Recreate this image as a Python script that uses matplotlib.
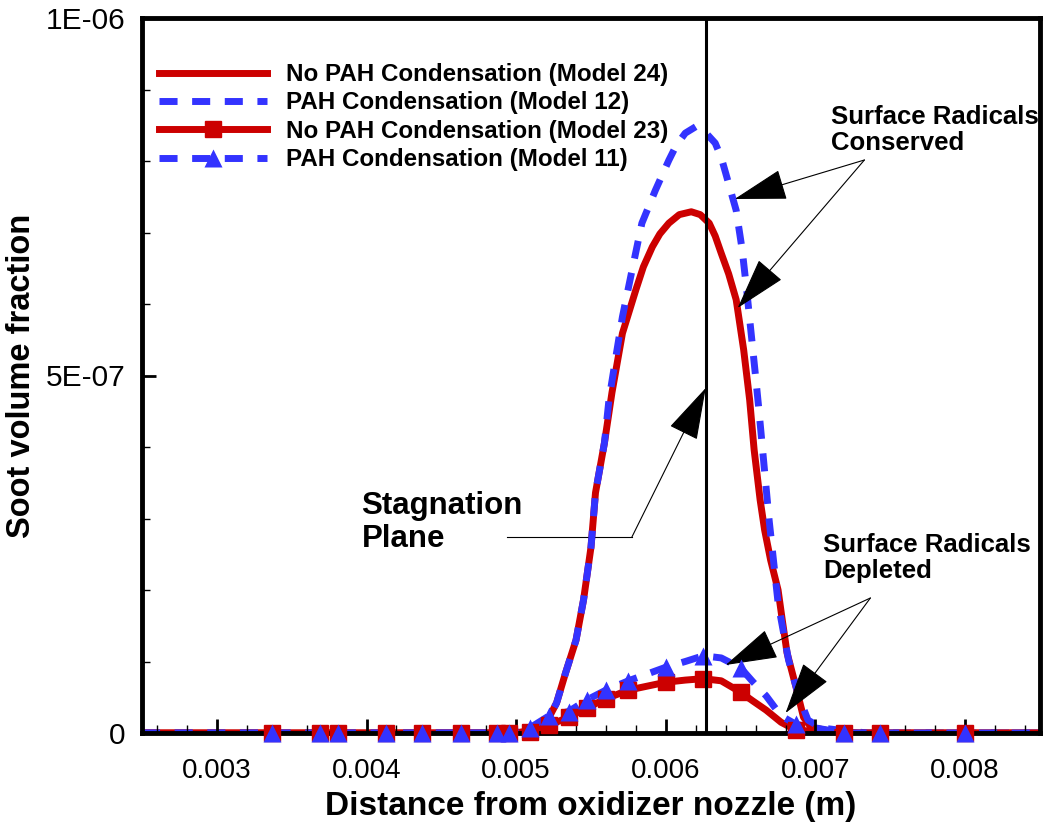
import matplotlib
matplotlib.use('Agg')
import matplotlib.pyplot as plt
from matplotlib.lines import Line2D
from matplotlib.ticker import MultipleLocator, FixedLocator, FixedFormatter
import numpy as np

plt.rcParams['font.family'] = ['Liberation Sans', 'DejaVu Sans']

RED = '#CC0000'
BLUE = '#3333FF'

# Model 24: no PAH condensation (surface radicals conserved)
x_m24 = [0.0025, 0.0050, 0.00513, 0.0052, 0.00527, 0.00533, 0.0054, 0.00545, 0.0055,
         0.00553, 0.00559, 0.00564, 0.00571, 0.0058, 0.00585, 0.00591, 0.00596, 0.00602,
         0.00609, 0.00617, 0.00623, 0.00629, 0.00633, 0.00637, 0.00642, 0.00647, 0.00652,
         0.00656, 0.00659, 0.00663, 0.00666, 0.0067, 0.00675, 0.00678, 0.00681, 0.00687,
         0.00692, 0.00697, 0.00709, 0.00729, 0.0085]
y_m24 = [0, 0, 0.04, 0.14, 0.42, 0.84, 1.30, 1.86, 2.60,
         3.36, 4.06, 4.76, 5.59, 6.20, 6.52, 6.80, 6.98, 7.13,
         7.25, 7.29, 7.25, 7.13, 6.95, 6.71, 6.42, 6.06, 5.36,
         4.66, 3.96, 3.26, 2.84, 2.42, 2.00, 1.55, 1.12, 0.64,
         0.22, 0.08, 0.03, 0, 0]

# Model 12: PAH condensation (surface radicals conserved)
x_m12 = [0.0025, 0.0050, 0.00513, 0.0052, 0.00527, 0.00533, 0.0054, 0.00545, 0.0055,
         0.00553, 0.00559, 0.00562, 0.00567, 0.00571, 0.00577, 0.00584, 0.00593, 0.00602,
         0.00607, 0.00613, 0.0062, 0.00626, 0.00633, 0.00637, 0.0064, 0.00647, 0.00651,
         0.00654, 0.00657, 0.0066, 0.00662, 0.00669, 0.00675, 0.00682, 0.00689, 0.00695,
         0.00704, 0.0072, 0.00735, 0.0085]
y_m12 = [0, 0, 0.04, 0.14, 0.42, 0.84, 1.30, 1.86, 2.60,
         3.36, 4.06, 4.66, 5.31, 5.82, 6.43, 7.13, 7.59, 8.01,
         8.22, 8.39, 8.48, 8.41, 8.25, 8.05, 7.83, 7.31, 6.76,
         6.20, 5.59, 4.98, 4.56, 2.98, 1.82, 1.02, 0.50, 0.18,
         0.07, 0.03, 0, 0]

# Models 23 / 11: surface radicals depleted (shared grid, markers on grid nodes)
x_dep = [0.0025, 0.00337, 0.00369, 0.00381, 0.00413, 0.00437, 0.00463, 0.00487, 0.00495,
         0.00509, 0.00522, 0.00535, 0.00547, 0.0056, 0.00575, 0.006, 0.00613, 0.00625,
         0.00637, 0.0065, 0.00658, 0.00667, 0.00677, 0.00687, 0.00719, 0.00743, 0.008, 0.0085]
y_m23 = [0, 0, 0, 0, 0, 0, 0, 0, 0,
         0.02, 0.11, 0.22, 0.35, 0.48, 0.60, 0.71, 0.74, 0.76,
         0.73, 0.57, 0.45, 0.32, 0.15, 0.04, 0, 0, 0, 0]
y_m11 = [0, 0, 0, 0, 0, 0, 0, 0, 0,
         0.07, 0.24, 0.30, 0.46, 0.60, 0.73, 0.92, 1.00, 1.08,
         1.05, 0.91, 0.72, 0.52, 0.24, 0.12, 0, 0, 0, 0]
marker_idx = [1, 2, 3, 4, 5, 6, 7, 8, 9, 10, 11, 12, 13, 14, 15, 17, 19, 23, 24, 25, 26]

labels = ['No PAH Condensation (Model 24)', 'PAH Condensation (Model 12)',
          'No PAH Condensation (Model 23)', 'PAH Condensation (Model 11)']

x_stag = 0.00627

scale = 1e-7
y_m24 = np.array(y_m24) * scale
y_m12 = np.array(y_m12) * scale
y_m23 = np.array(y_m23) * scale
y_m11 = np.array(y_m11) * scale
x_dep = np.array(x_dep)

fig = plt.figure(figsize=(10.43, 8.27), dpi=100)
ax = fig.add_axes([142 / 1043, 1 - 733 / 827, 898 / 1043, 715 / 827])

lw = 5
dash = (2.6, 2.1)
ax.plot(x_m24, y_m24, color=RED, lw=lw, solid_joinstyle='round', zorder=2)
ax.plot(x_m12, y_m12, color=BLUE, lw=lw, dashes=dash, zorder=2.1)
ax.plot(x_dep, y_m23, color=RED, lw=lw, solid_joinstyle='round', zorder=2.2)
ax.plot(x_dep, y_m11, color=BLUE, lw=lw, dashes=dash, zorder=2.3)
# markers sit over the frame
ax.plot(x_dep[marker_idx], y_m23[marker_idx], ls='none', marker='s', ms=11,
        color=RED, clip_on=False, zorder=3)
ax.plot(x_dep[marker_idx], y_m11[marker_idx], ls='none', marker='^', ms=13,
        color=BLUE, mec='none', clip_on=False, zorder=3.1)

ax.axvline(x_stag, color='black', lw=2.2, zorder=5)

ax.set_xlim(0.0025, 0.0085)
ax.set_ylim(0, 1e-6)

ax.xaxis.set_major_locator(FixedLocator([0.003, 0.004, 0.005, 0.006, 0.007, 0.008]))
ax.xaxis.set_major_formatter(FixedFormatter(['0.003', '0.004', '0.005', '0.006', '0.007', '0.008']))
ax.xaxis.set_minor_locator(MultipleLocator(0.0002))
ax.yaxis.set_major_locator(FixedLocator([0, 5e-7, 1e-6]))
ax.yaxis.set_major_formatter(FixedFormatter(['0', '5E-07', '1E-06']))
ax.yaxis.set_minor_locator(MultipleLocator(1e-7))
ax.tick_params(which='both', direction='in', top=False, right=False)
ax.tick_params(which='major', length=10, width=2)
ax.tick_params(which='minor', length=5.5, width=1)
ax.tick_params(axis='x', pad=18, labelsize=20)
ax.tick_params(axis='y', pad=12, labelsize=21.5)
ax.set_axisbelow(False)
for sp in ax.spines.values():
    sp.set_linewidth(3.5)

ax.set_xlabel('Distance from oxidizer nozzle (m)', fontsize=24, fontweight='bold', labelpad=5)
ax.set_ylabel('Soot volume fraction', fontsize=23.5, fontweight='bold', labelpad=6)

handles = [
    Line2D([], [], color=RED, lw=lw),
    Line2D([], [], color=BLUE, lw=lw, dashes=dash),
    Line2D([], [], color=RED, lw=lw, marker='s', ms=11),
    Line2D([], [], color=BLUE, lw=lw, dashes=dash, marker='^', ms=13, mec='none'),
]
leg = ax.legend(handles, labels, loc='upper left', bbox_to_anchor=(17 / 898, 0.937),
                frameon=False, borderpad=0, borderaxespad=0, handlelength=4.45,
                handletextpad=0.8, labelspacing=0.22, numpoints=1,
                prop={'weight': 'bold', 'size': 17.4})


def px(x, y):
    return 0.0025 + (x - 142) / 150000, (733 - y) / 715 * 1e-6


arrow = dict(arrowstyle='-|>,head_length=3.4,head_width=1.0', color='black',
             lw=0.8, mutation_scale=10, shrinkA=0, shrinkB=0)
text_kw = dict(fontsize=18.5, fontweight='bold', ha='left', va='top', linespacing=1.1)

# surface radicals conserved
ax.text(*px(833, 105), 'Surface Radicals\nConserved', **text_kw)
for tip in [(736, 199), (739, 308)]:
    ax.annotate('', xy=px(*tip), xytext=px(866, 160), arrowprops=arrow)

# surface radicals depleted
ax.text(*px(825, 533), 'Surface Radicals\nDepleted', **text_kw)
for tip in [(727, 665), (787, 713)]:
    ax.annotate('', xy=px(*tip), xytext=px(872, 598), arrowprops=arrow)

# stagnation plane
ax.text(*px(362, 491), 'Stagnation\nPlane', fontsize=22.5, fontweight='bold',
        ha='left', va='top', linespacing=1.12)
x0, y0 = px(508, 537)
x1, _ = px(633, 537)
ax.plot([x0, x1], [y0, y0], color='black', lw=0.8)
ax.annotate('', xy=px(707, 388), xytext=(x1, y0), arrowprops=arrow)

fig.savefig('out.png', dpi=100)
